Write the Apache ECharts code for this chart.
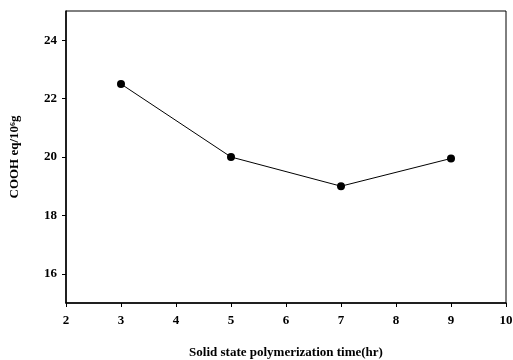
<!DOCTYPE html>
<html><head><meta charset="utf-8">
<script src="https://cdn.jsdelivr.net/npm/echarts@6/dist/echarts.min.js"></script>
<style>html,body{margin:0;padding:0;background:#fff}#c{width:513px;height:360px}</style>
</head><body><div id="c"></div>
<script>
const xValues = [3, 5, 7, 9];
const cooh = [22.5, 20.0, 19.0, 19.95];
const yTicks = [16, 18, 20, 22, 24];
const xTitle = 'Solid state polymerization time(hr)';
const yTitle = 'COOH eq/10\u2076g';

const font = {fontFamily: 'Liberation Serif', fontWeight: 'bold', color: '#000'};
const chart = echarts.init(document.getElementById('c'));
chart.setOption({
  animation: false,
  backgroundColor: '#fff',
  grid: {left: 66, right: 7, top: 11, bottom: 57, show: true, borderColor: '#000', borderWidth: 1,
         outerBoundsMode: 'none', containLabel: false},
  xAxis: {
    type: 'value', min: 2, max: 10, interval: 1,
    name: xTitle, nameLocation: 'middle', nameGap: 43,
    nameTextStyle: Object.assign({fontSize: 13}, font),
    axisLine: {lineStyle: {color: '#000', width: 1.5}},
    axisTick: {length: 4, lineStyle: {color: '#000'}},
    axisLabel: Object.assign({fontSize: 13, margin: 11}, font),
    splitLine: {show: false}
  },
  yAxis: {
    type: 'value', min: 15, max: 25,
    name: yTitle, nameLocation: 'middle', nameGap: 45,
    nameTextStyle: Object.assign({fontSize: 13}, font),
    axisLine: {lineStyle: {color: '#000', width: 1.5}},
    axisTick: {length: 4, lineStyle: {color: '#000'}, customValues: yTicks},
    axisLabel: Object.assign({fontSize: 13, margin: 9, customValues: yTicks}, font),
    splitLine: {show: false}
  },
  series: [{
    type: 'line',
    data: xValues.map((x, i) => [x, cooh[i]]),
    symbol: 'circle', symbolSize: 8,
    itemStyle: {color: '#000'},
    lineStyle: {color: '#000', width: 1}
  }]
});
</script></body></html>
